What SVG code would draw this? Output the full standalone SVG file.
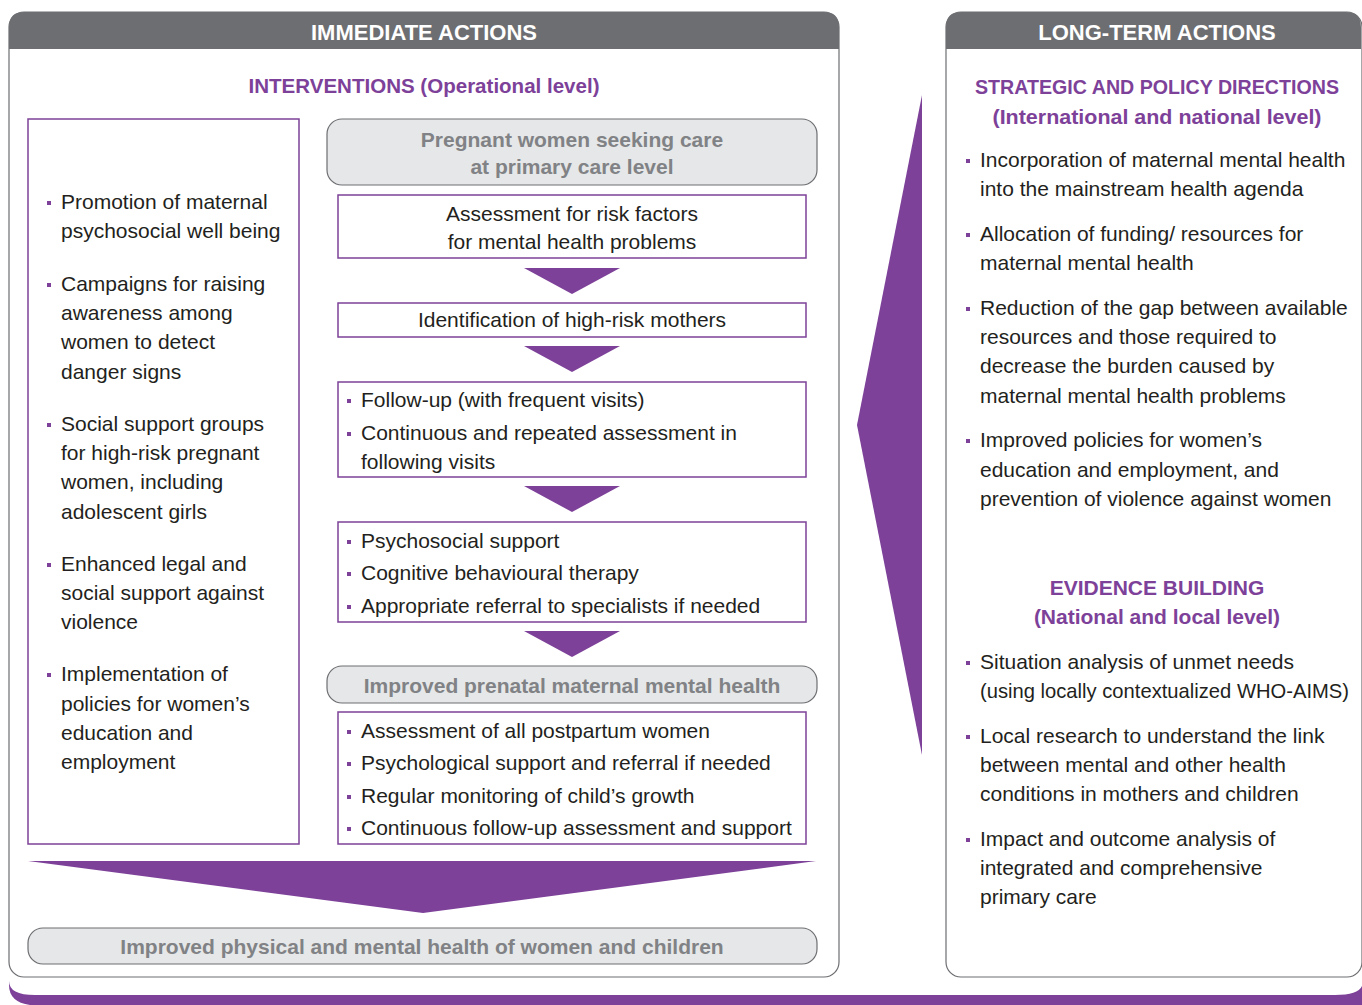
<svg xmlns="http://www.w3.org/2000/svg" width="1362" height="1005" viewBox="0 0 1362 1005">
<style>
.panel{fill:#fff;stroke:#6d6e71;stroke-width:1.2}
.hdr{fill:#6d6e71}
.hdrt{font-family:"Liberation Sans",Arial,sans-serif;font-size:22px;font-weight:bold;fill:#fff;text-anchor:middle}
.sub{font-family:"Liberation Sans",Arial,sans-serif;font-size:21px;font-weight:bold;fill:#7d4199;text-anchor:middle}
.gbox{fill:#e6e7e8;stroke:#6d6e71;stroke-width:1.2}
.gt{font-family:"Liberation Sans",Arial,sans-serif;font-size:21px;font-weight:bold;fill:#808285;text-anchor:middle}
.pbox{fill:#fff;stroke:#7d4199;stroke-width:1.5}
.t{font-family:"Liberation Sans",Arial,sans-serif;font-size:21px;fill:#231f20}
.tc{font-family:"Liberation Sans",Arial,sans-serif;font-size:21px;fill:#231f20;text-anchor:middle}
.b{fill:#7d4199}
.arr{fill:#7d4199}
</style>
<defs>
<rect id="bul" width="4" height="4" class="b"/>
</defs>

<g id="bottom-band">
<path class="arr" d="M9,981 Q9,995 35,995 L1335,995 Q1358,995 1362,986 L1362,1005 L30,1005 Q9,1002 9,985 Z"/>
<path class="arr" d="M1362,795 Q1358,828 1362,862 Z"/>
</g>

<g id="immediate-panel">
<rect class="panel" x="9" y="12" width="830" height="965" rx="15"/>
<path class="hdr" d="M9,49 L9,27 Q9,12 24,12 L824,12 Q839,12 839,27 L839,49 Z"/>
<text class="hdrt" x="424" y="40">IMMEDIATE ACTIONS</text>
<text class="sub" x="424" y="93" textLength="351" lengthAdjust="spacingAndGlyphs">INTERVENTIONS (Operational level)</text>
</g>

<g id="longterm-panel">
<rect class="panel" x="946" y="12" width="416" height="965" rx="15"/>
<path class="hdr" d="M946,49 L946,27 Q946,12 961,12 L1346,12 Q1361,12 1361,27 L1361,49 Z"/>
<text class="hdrt" x="1157" y="40">LONG-TERM ACTIONS</text>
</g>

<g id="left-box">
<rect class="pbox" x="28" y="119" width="271" height="725"/>
<use href="#bul" x="47" y="201"/><text class="t" x="61" y="209">Promotion of maternal</text>
<text class="t" x="61" y="238">psychosocial well being</text>
<use href="#bul" x="47" y="283"/><text class="t" x="61" y="291">Campaigns for raising</text>
<text class="t" x="61" y="320">awareness among</text>
<text class="t" x="61" y="349">women to detect</text>
<text class="t" x="61" y="379">danger signs</text>
<use href="#bul" x="47" y="423"/><text class="t" x="61" y="431">Social support groups</text>
<text class="t" x="61" y="460">for high-risk pregnant</text>
<text class="t" x="61" y="489">women, including</text>
<text class="t" x="61" y="519">adolescent girls</text>
<use href="#bul" x="47" y="563"/><text class="t" x="61" y="571">Enhanced legal and</text>
<text class="t" x="61" y="600">social support against</text>
<text class="t" x="61" y="629">violence</text>
<use href="#bul" x="47" y="673"/><text class="t" x="61" y="681">Implementation of</text>
<text class="t" x="61" y="711">policies for women’s</text>
<text class="t" x="61" y="740">education and</text>
<text class="t" x="61" y="769">employment</text>
</g>

<g id="pregnant-women">
<rect class="gbox" x="327" y="119" width="490" height="66" rx="15"/>
<text class="gt" x="572" y="147">Pregnant women seeking care</text>
<text class="gt" x="572" y="174">at primary care level</text>
</g>

<g id="assessment">
<rect class="pbox" x="338" y="195" width="468" height="63"/>
<text class="tc" x="572" y="221">Assessment for risk factors</text>
<text class="tc" x="572" y="249">for mental health problems</text>
</g>

<g id="identification">
<rect class="pbox" x="338" y="303" width="468" height="34"/>
<text class="tc" x="572" y="327">Identification of high-risk mothers</text>
</g>

<g id="follow-up">
<rect class="pbox" x="338" y="382" width="468" height="95"/>
<use href="#bul" x="347" y="399"/><text class="t" x="361" y="407">Follow-up (with frequent visits)</text>
<use href="#bul" x="347" y="432"/><text class="t" x="361" y="440">Continuous and repeated assessment in</text>
<text class="t" x="361" y="469">following visits</text>
</g>

<g id="support">
<rect class="pbox" x="338" y="522" width="468" height="100"/>
<use href="#bul" x="347" y="540"/><text class="t" x="361" y="548">Psychosocial support</text>
<use href="#bul" x="347" y="572"/><text class="t" x="361" y="580">Cognitive behavioural therapy</text>
<use href="#bul" x="347" y="605"/><text class="t" x="361" y="613">Appropriate referral to specialists if needed</text>
</g>

<g id="improved-prenatal">
<rect class="gbox" x="327" y="666" width="490" height="37" rx="15"/>
<text class="gt" x="572" y="693">Improved prenatal maternal mental health</text>
</g>

<g id="postpartum">
<rect class="pbox" x="338" y="712" width="468" height="132"/>
<use href="#bul" x="347" y="730"/><text class="t" x="361" y="738">Assessment of all postpartum women</text>
<use href="#bul" x="347" y="762"/><text class="t" x="361" y="770">Psychological support and referral if needed</text>
<use href="#bul" x="347" y="795"/><text class="t" x="361" y="803">Regular monitoring of child’s growth</text>
<use href="#bul" x="347" y="827"/><text class="t" x="361" y="835">Continuous follow-up assessment and support</text>
</g>

<g id="improved-health">
<rect class="gbox" x="28" y="928" width="789" height="36" rx="15"/>
<text class="gt" x="422" y="954">Improved physical and mental health of women and children</text>
</g>

<g id="strategic">
<text class="sub" x="1157" y="94" textLength="364" lengthAdjust="spacingAndGlyphs">STRATEGIC AND POLICY DIRECTIONS</text>
<text class="sub" x="1157" y="124" textLength="329" lengthAdjust="spacingAndGlyphs">(International and national level)</text>
<use href="#bul" x="966" y="159"/><text class="t" x="980" y="167">Incorporation of maternal mental health</text>
<text class="t" x="980" y="196">into the mainstream health agenda</text>
<use href="#bul" x="966" y="233"/><text class="t" x="980" y="241">Allocation of funding/ resources for</text>
<text class="t" x="980" y="270">maternal mental health</text>
<use href="#bul" x="966" y="307"/><text class="t" x="980" y="315">Reduction of the gap between available</text>
<text class="t" x="980" y="344">resources and those required to</text>
<text class="t" x="980" y="373">decrease the burden caused by</text>
<text class="t" x="980" y="403">maternal mental health problems</text>
<use href="#bul" x="966" y="439"/><text class="t" x="980" y="447">Improved policies for women’s</text>
<text class="t" x="980" y="477">education and employment, and</text>
<text class="t" x="980" y="506">prevention of violence against women</text>
</g>

<g id="evidence">
<text class="sub" x="1157" y="595">EVIDENCE BUILDING</text>
<text class="sub" x="1157" y="624">(National and local level)</text>
<use href="#bul" x="966" y="661"/><text class="t" x="980" y="669">Situation analysis of unmet needs</text>
<text class="t" x="980" y="698" textLength="369" lengthAdjust="spacingAndGlyphs">(using locally contextualized WHO-AIMS)</text>
<use href="#bul" x="966" y="735"/><text class="t" x="980" y="743">Local research to understand the link</text>
<text class="t" x="980" y="772">between mental and other health</text>
<text class="t" x="980" y="801">conditions in mothers and children</text>
<use href="#bul" x="966" y="838"/><text class="t" x="980" y="846">Impact and outcome analysis of</text>
<text class="t" x="980" y="875">integrated and comprehensive</text>
<text class="t" x="980" y="904">primary care</text>
</g>

<g id="connectors">
<polygon class="arr" points="524,268 620,268 572,294"/>
<polygon class="arr" points="524,346 620,346 572,372"/>
<polygon class="arr" points="524,486 620,486 572,512"/>
<polygon class="arr" points="524,631 620,631 572,657"/>
<polygon class="arr" points="28,861 816,861 423,913"/>
<polygon class="arr" points="922,95 922,755 857,425"/>
</g>
</svg>
